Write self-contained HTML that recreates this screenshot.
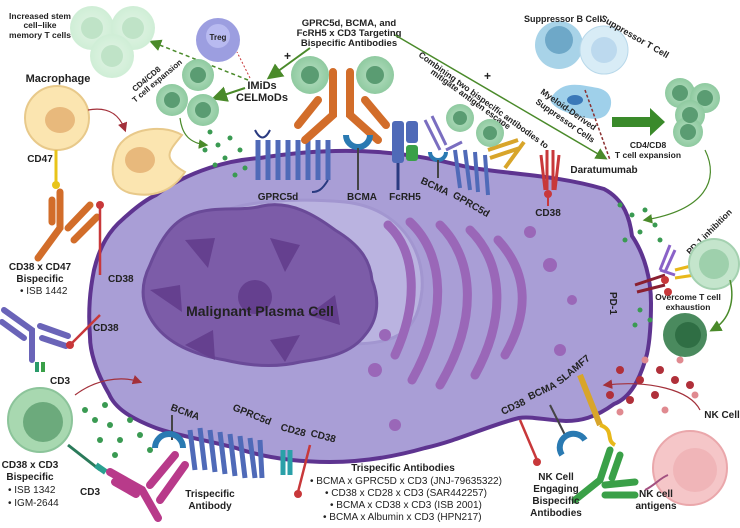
<!DOCTYPE html>
<html><head><meta charset="utf-8"><style>
html,body{margin:0;padding:0;background:#fff}
svg{display:block}
text{font-family:"Liberation Sans",sans-serif;fill:#222}
.b{font-weight:bold}
</style></head><body>
<svg width="740" height="528" viewBox="0 0 740 528" xmlns="http://www.w3.org/2000/svg">
<defs>
<radialGradient id="gc" cx="50%" cy="50%" r="50%"><stop offset="0" stop-color="#b9e0c4"/><stop offset="1" stop-color="#8fcaa0"/></radialGradient>
<radialGradient id="lg" cx="50%" cy="50%" r="50%"><stop offset="0" stop-color="#e3f4e6"/><stop offset="1" stop-color="#cfeed6"/></radialGradient>
<marker id="ag" markerWidth="8" markerHeight="8" refX="6" refY="4" orient="auto"><path d="M0,0 L8,4 L0,8 z" fill="#4a8a2a"/></marker>
<marker id="ar" markerWidth="8" markerHeight="8" refX="6" refY="4" orient="auto"><path d="M0,0 L8,4 L0,8 z" fill="#a3303a"/></marker>
</defs>

<path d="M156 195 C190 170 230 160 260 158 C310 150 350 150 378 152 C420 155 445 162 472 168 C520 175 560 176 604 189 C625 200 630 220 632 236 C645 255 651 280 651 303 C651 325 650 340 647 354 C640 380 630 398 614 404 C595 418 580 421 566 421 C545 420 530 416 519 418 C490 425 460 440 425 448 C390 458 360 462 330 462 C295 462 265 458 236 448 C205 440 175 435 156 428 C130 418 115 408 109 394 C95 370 90 350 90 337 C88 310 90 290 94 270 C100 245 110 230 123 219 C135 208 145 200 156 195Z" fill="#a99ed6" stroke="#5e3490" stroke-width="4"/>
<path d="M217 215 C240 200 300 198 345 202 C400 208 425 250 422 290 C418 330 400 344 350 344 C300 340 250 290 217 215Z" fill="#bab3e0" stroke="#a296d0" stroke-width="3"/>
<path d="M190 215 C215 205 240 212 262 206 C290 200 315 215 335 230 C360 245 370 260 372 280 C380 300 378 320 365 335 C350 355 325 358 300 362 C275 368 250 366 225 360 C195 355 170 345 155 325 C140 305 140 285 150 265 C160 240 172 222 190 215Z" fill="#7c5ca8" stroke="#6a4a98" stroke-width="3"/>
<g fill="#65408f">
<path d="M185 240 L215 238 L208 268 Z"/><path d="M270 238 L300 245 L285 272 Z"/>
<path d="M150 290 L180 285 L182 312 Z"/><path d="M335 295 L340 325 L308 315 Z"/>
<path d="M185 345 L213 330 L215 360 Z"/><path d="M270 340 L300 335 L285 362 Z"/>
<circle cx="255" cy="297" r="17"/>
</g>
<text x="260" y="316" text-anchor="middle" class="b" font-size="14" fill="#111">Malignant Plasma Cell</text>
<g fill="none" stroke="#9a67b8" stroke-width="9" stroke-linecap="round">
<path d="M388 225 C415 250 420 300 395 355"/>
<path d="M410 222 C445 255 448 315 412 380"/>
<path d="M440 225 C475 260 478 320 440 385"/>
<path d="M470 230 C505 265 505 320 475 375"/>
<path d="M498 240 C530 275 528 315 505 355"/>
</g>
<g fill="#9a67b8"><circle cx="530" cy="232" r="6"/><circle cx="550" cy="265" r="7"/><circle cx="375" cy="370" r="7"/><circle cx="385" cy="335" r="6"/><circle cx="572" cy="300" r="5"/><circle cx="560" cy="350" r="6"/><circle cx="395" cy="425" r="6"/></g>

<g stroke="#4f6ab8" stroke-width="5" fill="none">
<path d="M258 140 L258 180 M268 140 L268 180 M278 140 L278 180 M288 140 L288 180 M298 140 L298 180 M308 140 L308 180 M318 140 L318 180 M328 140 L328 180"/>
</g>
<path d="M255 130 C260 140 265 140 270 130" stroke="#2a3a80" stroke-width="2" fill="none"/>
<path d="M328 180 C322 190 318 192 312 192" stroke="#2a3a80" stroke-width="2" fill="none"/>
<text x="278" y="200" text-anchor="middle" class="b" font-size="10">GPRC5d</text>
<g stroke="#d26d2a" stroke-width="8" stroke-linecap="round" fill="none"><path d="M333 72 L333 115 L305 140 M350 72 L350 115 L378 140 M318 100 L298 125 M365 100 L386 125"/></g>
<path d="M346 135 A12 12 0 0 0 370 135" stroke="#2a7ab2" stroke-width="6" fill="none"/>
<line x1="358" y1="148" x2="358" y2="190" stroke="#444" stroke-width="2"/>
<text x="362" y="200" text-anchor="middle" class="b" font-size="10">BCMA</text>
<rect x="392" y="121" width="12" height="42" rx="3" fill="#4f6ab8"/><rect x="406" y="121" width="12" height="22" rx="3" fill="#4f6ab8"/><rect x="406" y="145" width="12" height="16" rx="3" fill="#3aa048"/>
<line x1="398" y1="163" x2="398" y2="190" stroke="#2a3a80" stroke-width="3"/>
<text x="405" y="200" text-anchor="middle" class="b" font-size="10">FcRH5</text>
<g stroke="#7a6ec0" stroke-width="3" fill="none"><path d="M425 120 L440 150 M432 116 L446 145 M446 150 L462 142"/></g>
<path d="M430 152 A8 8 0 0 0 446 152" stroke="#2a7ab2" stroke-width="4" fill="none"/>
<line x1="438" y1="160" x2="438" y2="178" stroke="#444" stroke-width="2"/>
<g stroke="#4f6ab8" stroke-width="4" fill="none"><path d="M455 150 L460 188 M465 150 L470 190 M475 152 L478 192 M485 155 L488 195"/></g>
<text x="420" y="183" class="b" font-size="10" transform="rotate(25 420 183)">BCMA</text>
<text x="452" y="197" class="b" font-size="10" transform="rotate(30 452 197)">GPRC5d</text>
<g stroke="#d8a52a" stroke-width="4" fill="none"><path d="M488 150 L518 140 M490 158 L520 148 M505 168 L524 142"/></g>
<g stroke="#c8383a" stroke-width="3" fill="none"><path d="M547 150 L547 190 M553 150 L553 190 M541 155 L545 190 M559 155 L555 190"/></g>
<circle cx="548" cy="194" r="4" fill="#c8383a"/><line x1="548" y1="194" x2="548" y2="206" stroke="#c8383a" stroke-width="2"/>
<text x="548" y="216" text-anchor="middle" class="b" font-size="10">CD38</text>

<text x="349" y="26" text-anchor="middle" class="b" font-size="9.5">GPRC5d, BCMA, and</text>
<text x="349" y="36" text-anchor="middle" class="b" font-size="9.5">FcRH5 x CD3 Targeting</text>
<text x="349" y="46" text-anchor="middle" class="b" font-size="9.5">Bispecific Antibodies</text>
<line x1="310" y1="48" x2="270" y2="77" stroke="#4a8a2a" stroke-width="2" marker-end="url(#ag)"/>
<line x1="395" y1="35" x2="605" y2="158" stroke="#4a8a2a" stroke-width="1.5" marker-end="url(#ag)"/>
<text x="284" y="60" fill="#5aa02a" font-size="12" class="b">+</text>
<text x="484" y="80" fill="#5aa02a" font-size="12" class="b">+</text>
<text x="418" y="56" class="b" font-size="8.5" transform="rotate(36 418 56)">Combining two bispecific antibodies to</text>
<text x="430" y="73" class="b" font-size="8.5" transform="rotate(36 430 73)">mitigate antigen escape</text>
<text x="262" y="89" text-anchor="middle" class="b" font-size="11">IMiDs</text>
<text x="262" y="101" text-anchor="middle" class="b" font-size="11">CELMoDs</text>
<line x1="245" y1="88" x2="215" y2="98" stroke="#4a8a2a" stroke-width="2" marker-end="url(#ag)"/>
<line x1="248" y1="80" x2="152" y2="42" stroke="#4a8a2a" stroke-width="1.5" stroke-dasharray="4,3" marker-end="url(#ag)"/>
<line x1="250" y1="78" x2="237" y2="52" stroke="#c8383a" stroke-width="1" stroke-dasharray="2,2"/>
<circle cx="218" cy="40" r="22" fill="#9c9ee0"/><circle cx="218" cy="36" r="12" fill="#b8baf0"/>
<text x="218" y="40" text-anchor="middle" font-size="8" fill="#fff" class="b">Treg</text>
<g><circle cx="92" cy="28" r="22" fill="url(#lg)"/><circle cx="92" cy="28" r="11" fill="#bfe3c7"/>
<circle cx="133" cy="28" r="22" fill="url(#lg)"/><circle cx="133" cy="28" r="11" fill="#bfe3c7"/>
<circle cx="112" cy="56" r="22" fill="url(#lg)"/><circle cx="112" cy="56" r="11" fill="#bfe3c7"/></g>
<text x="40" y="19" text-anchor="middle" class="b" font-size="8.5">Increased stem</text>
<text x="40" y="28" text-anchor="middle" class="b" font-size="8.5">cell–like</text>
<text x="40" y="38" text-anchor="middle" class="b" font-size="8.5">memory T cells</text>
<text x="135" y="92" class="b" font-size="8" transform="rotate(-40 135 92)">CD4/CD8</text>
<text x="135" y="103" class="b" font-size="8" transform="rotate(-40 135 103)">T cell expansion</text>
<g fill="url(#gc)"><circle cx="198" cy="75" r="16"/><circle cx="172" cy="100" r="16"/><circle cx="203" cy="110" r="16"/><circle cx="310" cy="75" r="19"/><circle cx="375" cy="75" r="19"/><circle cx="460" cy="118" r="14"/><circle cx="490" cy="133" r="14"/></g>
<g fill="#5a9c72"><circle cx="198" cy="75" r="8"/><circle cx="172" cy="100" r="8"/><circle cx="203" cy="110" r="8"/><circle cx="310" cy="75" r="9"/><circle cx="375" cy="75" r="9"/><circle cx="460" cy="118" r="7"/><circle cx="490" cy="133" r="7"/></g>
<path d="M180 118 C182 135 190 143 206 145" stroke="#4a8a2a" stroke-width="1.2" fill="none" marker-end="url(#ag)"/>
<g fill="#3a9a52"><circle cx="210" cy="132" r="2.5"/><circle cx="218" cy="145" r="2.5"/><circle cx="230" cy="138" r="2.5"/><circle cx="225" cy="158" r="2.5"/><circle cx="240" cy="150" r="2.5"/><circle cx="215" cy="165" r="2.5"/><circle cx="245" cy="168" r="2.5"/><circle cx="235" cy="175" r="2.5"/><circle cx="205" cy="150" r="2.5"/></g>

<text x="58" y="82" text-anchor="middle" class="b" font-size="11">Macrophage</text>
<circle cx="57" cy="118" r="32" fill="#fbe5b0" stroke="#e8c98a" stroke-width="2"/><ellipse cx="60" cy="120" rx="15" ry="13" fill="#e8b97c"/>
<path d="M88 110 C110 106 120 116 125 130" stroke="#a3303a" stroke-width="1.2" fill="none" marker-end="url(#ar)"/>
<path d="M115 155 C120 130 160 122 182 135 C170 150 160 158 185 172 C172 192 152 198 130 193 C112 188 110 172 115 155Z" fill="#fbe5b0" stroke="#e8c98a" stroke-width="2"/><ellipse cx="140" cy="160" rx="15" ry="13" fill="#e8b97c"/>
<text x="40" y="162" text-anchor="middle" class="b" font-size="10">CD47</text>
<line x1="56" y1="150" x2="56" y2="183" stroke="#e8c41a" stroke-width="3"/><circle cx="56" cy="185" r="4" fill="#e8c41a"/>
<g stroke="#d26d2a" stroke-width="7" stroke-linecap="round" fill="none"><path d="M60 192 L60 228 L38 258 M52 200 L52 222 M68 228 L90 205 M74 240 L97 217"/></g>
<line x1="100" y1="208" x2="100" y2="275" stroke="#c8383a" stroke-width="2.5"/><circle cx="100" cy="205" r="4" fill="#c8383a"/>
<text x="108" y="282" class="b" font-size="10">CD38</text>
<text x="40" y="270" text-anchor="middle" class="b" font-size="10">CD38 x CD47</text>
<text x="40" y="282" text-anchor="middle" class="b" font-size="10">Bispecific</text>
<text x="20" y="294" font-size="10">•  ISB 1442</text>
<g stroke="#6a64b8" stroke-width="6" stroke-linecap="round" fill="none"><path d="M4 310 L32 330 L32 360 M2 322 L24 338 M40 326 L68 336 M42 338 L66 346"/></g>
<line x1="70" y1="345" x2="100" y2="315" stroke="#c8383a" stroke-width="2.5"/><circle cx="70" cy="345" r="4" fill="#c8383a"/>
<text x="93" y="331" class="b" font-size="10">CD38</text>
<rect x="35" y="362" width="4" height="10" fill="#2a9a6a"/><rect x="41" y="362" width="4" height="10" fill="#3aa048"/>
<text x="50" y="384" class="b" font-size="10">CD3</text>
<path d="M75 395 C95 380 120 375 140 382" stroke="#a3303a" stroke-width="1.2" fill="none" marker-end="url(#ar)"/>
<circle cx="40" cy="420" r="32" fill="#a8d8b0" stroke="#8cc49a" stroke-width="2"/><circle cx="43" cy="422" r="20" fill="#6caa7c"/>
<line x1="68" y1="445" x2="100" y2="470" stroke="#2a7a5a" stroke-width="3"/><rect x="95" y="465" width="12" height="6" fill="#2aa090" transform="rotate(35 100 468)"/>
<g stroke="#b83a8a" stroke-width="8" stroke-linecap="round" fill="none"><path d="M110 472 L142 490 L158 518 M115 482 L136 494 M150 485 L175 455 M160 500 L185 465"/></g>
<text x="30" y="468" text-anchor="middle" class="b" font-size="10">CD38 x CD3</text>
<text x="30" y="480" text-anchor="middle" class="b" font-size="10">Bispecific</text>
<text x="8" y="493" font-size="10">•  ISB 1342</text>
<text x="8" y="506" font-size="10">•  IGM-2644</text>
<text x="80" y="495" class="b" font-size="10">CD3</text>
<g fill="#3a9a52"><circle cx="85" cy="410" r="3"/><circle cx="95" cy="420" r="3"/><circle cx="105" cy="405" r="3"/><circle cx="110" cy="425" r="3"/><circle cx="100" cy="440" r="3"/><circle cx="120" cy="440" r="3"/><circle cx="130" cy="420" r="3"/><circle cx="115" cy="455" r="3"/><circle cx="140" cy="435" r="3"/><circle cx="150" cy="450" r="3"/></g>

<text x="170" y="410" class="b" font-size="10" transform="rotate(20 170 410)">BCMA</text>
<line x1="172" y1="415" x2="172" y2="440" stroke="#444" stroke-width="2"/>
<path d="M155 448 A14 14 0 0 1 183 448" stroke="#2a7ab2" stroke-width="6" fill="none"/>
<g stroke="#4f6ab8" stroke-width="5" fill="none"><path d="M190 430 L195 470 M200 428 L205 470 M210 430 L215 472 M220 432 L225 474 M230 434 L235 476 M240 436 L245 478 M250 438 L255 478 M260 440 L262 478"/></g>
<text x="232" y="410" class="b" font-size="10" transform="rotate(22 232 410)">GPRC5d</text>
<text x="280" y="430" class="b" font-size="10" transform="rotate(15 280 430)">CD28</text>
<text x="310" y="436" class="b" font-size="10" transform="rotate(15 310 436)">CD38</text>
<g stroke="#2aa0a8" stroke-width="5" fill="none"><path d="M283 450 L283 475 M290 450 L290 475"/></g>
<line x1="310" y1="445" x2="298" y2="492" stroke="#c8383a" stroke-width="2.5"/><circle cx="298" cy="494" r="4" fill="#c8383a"/>
<text x="210" y="497" text-anchor="middle" class="b" font-size="10">Trispecific</text>
<text x="210" y="509" text-anchor="middle" class="b" font-size="10">Antibody</text>
<text x="403" y="471" text-anchor="middle" class="b" font-size="10">Trispecific Antibodies</text>
<text x="310" y="484" font-size="10">•  BCMA x GPRC5D x CD3 (JNJ-79635322)</text>
<text x="325" y="496" font-size="10">•  CD38 x CD28 x CD3 (SAR442257)</text>
<text x="330" y="508" font-size="10">•  BCMA x CD38 x CD3 (ISB 2001)</text>
<text x="323" y="520" font-size="10">•  BCMA x Albumin x CD3  (HPN217)</text>

<text x="503" y="415" class="b" font-size="10" transform="rotate(-25 503 415)">CD38</text>
<text x="530" y="400" class="b" font-size="10" transform="rotate(-25 530 400)">BCMA</text>
<text x="560" y="385" class="b" font-size="10" transform="rotate(-40 560 385)">SLAMF7</text>
<line x1="520" y1="420" x2="537" y2="460" stroke="#c8383a" stroke-width="2.5"/><circle cx="537" cy="462" r="4" fill="#c8383a"/>
<line x1="550" y1="405" x2="565" y2="435" stroke="#444" stroke-width="2"/>
<path d="M562 455 A10 10 0 0 1 585 440" stroke="#2a7ab2" stroke-width="6" fill="none"/>
<line x1="580" y1="375" x2="600" y2="425" stroke="#d8a52a" stroke-width="6"/>
<path d="M600 425 C615 430 605 440 615 445" stroke="#e8b81a" stroke-width="4" fill="none"/>
<g stroke="#3aa048" stroke-width="7" stroke-linecap="round" fill="none"><path d="M610 450 L600 480 L575 500 M620 455 L612 478 M605 485 L635 482 M605 495 L635 495"/></g>
<text x="556" y="480" text-anchor="middle" class="b" font-size="10">NK Cell</text>
<text x="556" y="492" text-anchor="middle" class="b" font-size="10">Engaging</text>
<text x="556" y="504" text-anchor="middle" class="b" font-size="10">Bispecific</text>
<text x="556" y="516" text-anchor="middle" class="b" font-size="10">Antibodies</text>
<circle cx="690" cy="468" r="37" fill="#f5c6c8" stroke="#eaa7ab" stroke-width="2"/><circle cx="695" cy="470" r="22" fill="#f0b5b8"/>
<path d="M645 490 C655 485 660 478 668 475" stroke="#a35080" stroke-width="2" fill="none"/>
<text x="656" y="497" text-anchor="middle" class="b" font-size="10">NK cell</text>
<text x="656" y="509" text-anchor="middle" class="b" font-size="10">antigens</text>
<text x="722" y="418" text-anchor="middle" class="b" font-size="10">NK Cell</text>
<path d="M700 410 C690 390 650 380 605 385" stroke="#a3303a" stroke-width="1.2" fill="none" marker-end="url(#ar)"/>
<g fill="#b0303a"><circle cx="620" cy="370" r="4"/><circle cx="640" cy="380" r="4"/><circle cx="660" cy="370" r="4"/><circle cx="655" cy="395" r="4"/><circle cx="675" cy="380" r="4"/><circle cx="630" cy="400" r="4"/><circle cx="690" cy="385" r="4"/><circle cx="610" cy="395" r="4"/></g>
<g fill="#e08a90"><circle cx="645" cy="360" r="3.5"/><circle cx="680" cy="360" r="3.5"/><circle cx="695" cy="395" r="3.5"/><circle cx="665" cy="410" r="3.5"/><circle cx="620" cy="412" r="3.5"/></g>

<circle cx="559" cy="45" r="24" fill="#a8d3e8"/><circle cx="559" cy="40" r="14" fill="#6ea8c8"/>
<circle cx="604" cy="50" r="24" fill="#d8ecf6" stroke="#b8d8ea"/><circle cx="604" cy="50" r="13" fill="#bcd9ee"/>
<path d="M553 95 C565 80 580 85 598 88 C615 92 613 108 606 115 C598 122 585 118 572 114 C558 110 545 102 553 95Z" fill="#9fd0ea"/>
<ellipse cx="575" cy="100" rx="8" ry="5" fill="#3a78b8"/>
<line x1="585" y1="90" x2="610" y2="160" stroke="#8a3030" stroke-width="1.5" stroke-dasharray="3,2"/>
<text x="563" y="22" text-anchor="middle" class="b" font-size="9">Suppressor B Cell</text>
<text x="600" y="20" class="b" font-size="9" transform="rotate(30 600 20)">Suppressor T Cell</text>
<text x="540" y="93" class="b" font-size="8.5" transform="rotate(35 540 93)">Myeloid-Derived</text>
<text x="535" y="103" class="b" font-size="8.5" transform="rotate(35 535 103)">Suppressor Cells</text>
<text x="604" y="173" text-anchor="middle" class="b" font-size="10">Daratumumab</text>
<path d="M612 117 L650 117 L650 108 L665 122 L650 136 L650 127 L612 127Z" fill="#3a8a2a"/>
<g fill="url(#gc)"><circle cx="680" cy="93" r="15"/><circle cx="705" cy="98" r="15"/><circle cx="690" cy="115" r="15"/><circle cx="688" cy="132" r="15"/></g>
<g fill="#5a9c72"><circle cx="680" cy="93" r="8"/><circle cx="705" cy="98" r="8"/><circle cx="690" cy="115" r="8"/><circle cx="688" cy="132" r="8"/></g>
<text x="648" y="148" text-anchor="middle" class="b" font-size="8.5">CD4/CD8</text>
<text x="648" y="158" text-anchor="middle" class="b" font-size="8.5">T cell expansion</text>
<path d="M705 150 C720 180 705 210 645 220" stroke="#4a8a2a" stroke-width="1.2" fill="none" marker-end="url(#ag)"/>
<g fill="#3a9a52"><circle cx="620" cy="205" r="2.5"/><circle cx="632" cy="215" r="2.5"/><circle cx="645" cy="210" r="2.5"/><circle cx="655" cy="225" r="2.5"/><circle cx="640" cy="232" r="2.5"/><circle cx="625" cy="240" r="2.5"/><circle cx="660" cy="240" r="2.5"/><circle cx="640" cy="310" r="2.5"/><circle cx="650" cy="320" r="2.5"/><circle cx="635" cy="325" r="2.5"/></g>
<text x="690" y="255" class="b" font-size="8.5" transform="rotate(-45 690 255)">PD-1 inhibition</text>
<g stroke="#8a62c8" stroke-width="3" fill="none"><path d="M660 270 L670 245 M665 272 L675 250 M660 270 L675 275"/></g>
<g stroke="#8a2030" stroke-width="3" fill="none"><path d="M635 285 L665 275 M637 292 L665 285"/></g>
<circle cx="665" cy="280" r="4" fill="#c8383a"/><circle cx="668" cy="292" r="4" fill="#c8383a"/>
<g stroke="#e8b81a" stroke-width="3" fill="none"><path d="M675 270 L695 265 M675 278 L695 275"/></g>
<text x="610" y="292" class="b" font-size="10" transform="rotate(90 610 292)">PD-1</text>
<circle cx="714" cy="264" r="25" fill="#c4e5cc" stroke="#a4d1b0" stroke-width="2"/><circle cx="714" cy="264" r="15" fill="#9ed0ac"/>
<text x="688" y="300" text-anchor="middle" class="b" font-size="8.5">Overcome T cell</text>
<text x="688" y="310" text-anchor="middle" class="b" font-size="8.5">exhaustion</text>
<circle cx="685" cy="335" r="22" fill="#4a8a5e"/><circle cx="688" cy="335" r="13" fill="#2f6e44"/>
<path d="M730 280 C735 300 730 320 712 330" stroke="#4a8a2a" stroke-width="1.5" fill="none" marker-end="url(#ag)"/>
</svg>
</body></html>
